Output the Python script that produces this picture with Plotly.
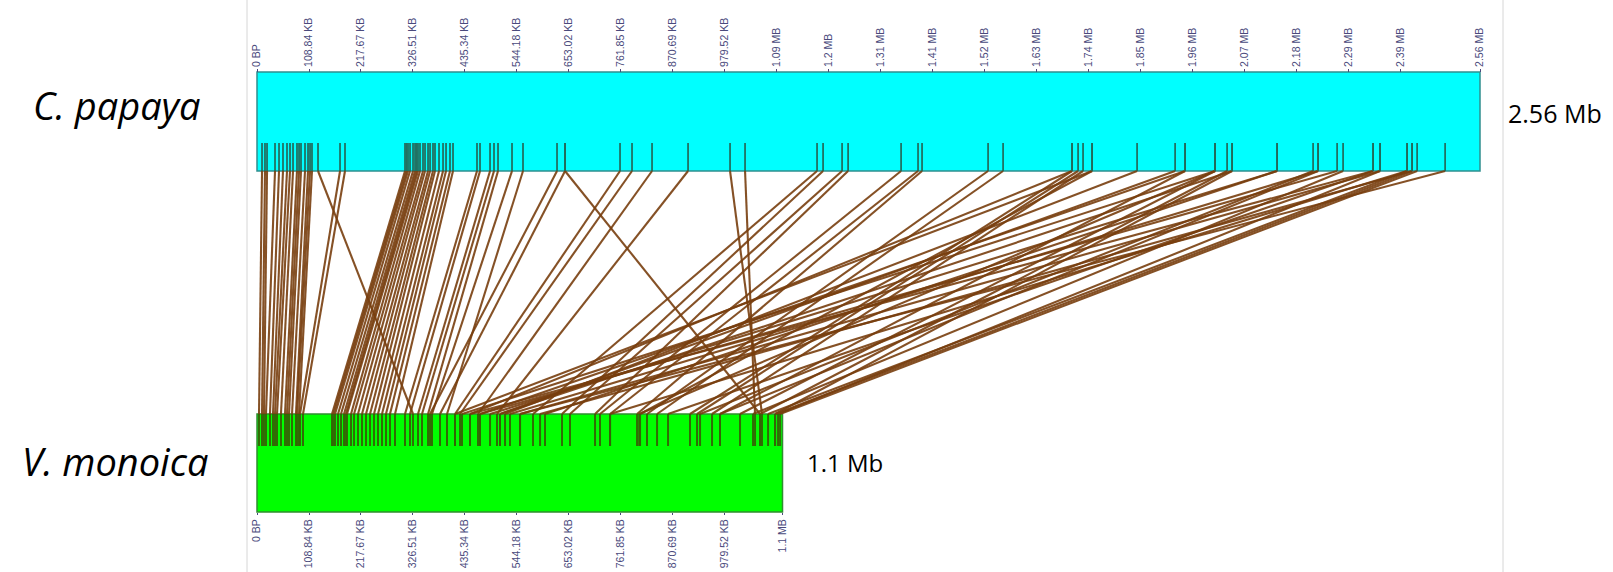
import plotly.graph_objects as go

# ---------------- data (positions in KB) ----------------
genomes = ["C. papaya", "V. monoica"]
genome_sizes_kb = [2560, 1100]
genome_size_labels = ["2.56 Mb", "1.1 Mb"]

top_tick_vals = [0, 108.84, 217.67, 326.51, 435.34, 544.18, 653.02, 761.85, 870.69, 979.52,
                 1088.4, 1197.2, 1306.1, 1414.9, 1523.8, 1632.6, 1741.5, 1850.3, 1959.2,
                 2068.0, 2176.8, 2285.7, 2394.5, 2560]
top_tick_text = ["0 BP", "108.84 KB", "217.67 KB", "326.51 KB", "435.34 KB", "544.18 KB",
                 "653.02 KB", "761.85 KB", "870.69 KB", "979.52 KB", "1.09 MB", "1.2 MB",
                 "1.31 MB", "1.41 MB", "1.52 MB", "1.63 MB", "1.74 MB", "1.85 MB", "1.96 MB",
                 "2.07 MB", "2.18 MB", "2.29 MB", "2.39 MB", "2.56 MB"]
bot_tick_vals = [0, 108.84, 217.67, 326.51, 435.34, 544.18, 653.02, 761.85, 870.69, 979.52, 1100]
bot_tick_text = ["0 BP", "108.84 KB", "217.67 KB", "326.51 KB", "435.34 KB", "544.18 KB",
                 "653.02 KB", "761.85 KB", "870.69 KB", "979.52 KB", "1.1 MB"]

# syntenic links: position on C. papaya (top) and on V. monoica (bottom), KB
papaya_kb = [10.5, 16.7, 21.0, 37.7, 46.1, 54.4, 62.8, 69.1, 75.4, 83.7, 88.0, 92.1, 100.5, 106.8,
             111.0, 115.1, 173.8, 184.2,
             127.7,
             309.8, 313.0, 316.1, 320.3, 326.6, 330.8, 334.0, 337.0, 341.2, 347.5, 351.7, 358.0,
             362.2, 368.4, 372.6, 381.0, 389.4, 395.7, 404.0, 410.3,
             460.5, 466.8, 487.8, 496.1, 504.5, 533.8, 556.8,
             628.0, 644.8, 644.8,
             759.9, 785.0, 826.9,
             902.3,
             990.2, 1021.6,
             1172.3, 1184.9, 1224.7, 1237.3,
             1348.2, 1383.7, 1392.1,
             1530.3, 1561.7,
             1706.1, 1718.7, 1729.1, 1748.0, 1706.1, 1748.0,
             1842.2,
             1921.8, 1942.7, 1942.7, 2005.5, 2030.6, 2041.1, 2005.5, 2041.1, 2005.5,
             2135.3, 2135.3, 2210.6, 2221.1, 2260.9, 2273.4, 2221.1,
             2336.2, 2350.9, 2407.4, 2417.9, 2428.4, 2487.0, 2350.9, 2417.9, 2407.4, 2336.2]
monoica_kb = [4.2, 10.5, 14.6, 18.8, 27.2, 33.5, 37.7, 41.9, 50.2, 58.6, 62.8, 67.0, 73.3, 81.6,
              84.0, 87.9, 90.0, 96.3,
              326.6,
              157.0, 160.0, 163.3, 169.6, 175.8, 182.1, 186.0, 188.4, 196.8, 203.1, 211.4, 219.8,
              228.2, 236.6, 244.9, 253.3, 261.7, 270.0, 278.4, 288.9,
              309.8, 320.3, 337.0, 345.4, 358.0, 366.3, 397.7,
              362.2, 383.1, 1053.0,
              414.5, 425.0, 462.6,
              502.4,
              1057.1, 1042.5,
              577.8, 638.5, 655.2, 707.6,
              718.0, 739.0, 795.5,
              816.4, 837.4,
              906.4, 921.1, 952.5, 801.8, 445.9, 414.5,
              519.2,
              508.7, 466.8, 969.2, 1011.1, 1053.0, 1084.4, 429.1, 508.7, 800.0,
              487.8, 602.9, 927.4, 969.2, 466.8, 1038.3, 529.6,
              445.9, 1090.7, 1069.8, 1084.4, 1094.9, 550.6, 550.6, 592.5, 739.0, 860.4]

# ---------------- layout geometry (pixels) ----------------
W, H = 1613, 572
X0_PX = 257.0
PX_PER_KB = 1223.0 / 2560.0
x_range = [-X0_PX / PX_PER_KB, (W - X0_PX) / PX_PER_KB]

TOP_Y0, TOP_Y1 = 72, 171          # C. papaya bar
TOP_MARK_Y0 = 143
BOT_Y0, BOT_Y1 = 414, 512         # V. monoica bar
BOT_MARK_Y1 = 446

LINK_COLOR = "rgba(120,62,14,0.9)"
TOP_MARK_COLOR = "rgba(35,105,90,0.95)"
BOT_MARK_COLOR = "rgba(52,100,5,0.95)"
TICK_COLOR = "#4a4a7c"

fig = go.Figure()

# links
lx, ly = [], []
for t, b in zip(papaya_kb, monoica_kb):
    lx += [t, b, None]
    ly += [TOP_Y1, BOT_Y0, None]
fig.add_trace(go.Scatter(x=lx, y=ly, mode="lines", line=dict(color=LINK_COLOR, width=2.1),
                         hoverinfo="skip", showlegend=False))

# marks on C. papaya
tx, ty = [], []
for t in papaya_kb:
    tx += [t, t, None]
    ty += [TOP_MARK_Y0, TOP_Y1, None]
fig.add_trace(go.Scatter(x=tx, y=ty, mode="lines", line=dict(color=TOP_MARK_COLOR, width=1.8),
                         hoverinfo="skip", showlegend=False))

# marks on V. monoica
bx, by = [], []
for b in monoica_kb:
    bx += [b, b, None]
    by += [BOT_Y0, BOT_MARK_Y1, None]
fig.add_trace(go.Scatter(x=bx, y=by, mode="lines", line=dict(color=BOT_MARK_COLOR, width=2.0),
                         hoverinfo="skip", showlegend=False, xaxis="x2"))

shapes = [
    dict(type="rect", xref="x", yref="y", x0=0, x1=genome_sizes_kb[0], y0=TOP_Y0, y1=TOP_Y1,
         fillcolor="#00ffff", line=dict(color="#2f8f8f", width=1.5), layer="below"),
    dict(type="rect", xref="x", yref="y", x0=0, x1=genome_sizes_kb[1], y0=BOT_Y0, y1=BOT_Y1,
         fillcolor="#00ff00", line=dict(color="#2f8f2f", width=1.5), layer="below"),
    dict(type="line", xref="paper", yref="paper", x0=247 / W, x1=247 / W, y0=0, y1=1,
         line=dict(color="#d6d6d6", width=1)),
    dict(type="line", xref="paper", yref="paper", x0=1503 / W, x1=1503 / W, y0=0, y1=1,
         line=dict(color="#d6d6d6", width=1)),
]

annotations = [
    dict(text="<i>" + genomes[0] + "</i>", x=117 / W, y=1 - 105 / H, xref="paper", yref="paper",
         showarrow=False, font=dict(family="Open Sans", size=38, color="black"),
         xanchor="center", yanchor="middle"),
    dict(text="<i>" + genomes[1] + "</i>", x=115 / W, y=1 - 461 / H, xref="paper", yref="paper",
         showarrow=False, font=dict(family="Open Sans", size=38, color="black"),
         xanchor="center", yanchor="middle"),
    dict(text=genome_size_labels[0], x=1506 / W, y=1 - 113 / H, xref="paper", yref="paper",
         showarrow=False, font=dict(family="Open Sans", size=25, color="black"),
         xanchor="left", yanchor="middle"),
    dict(text=genome_size_labels[1], x=805 / W, y=1 - 462 / H, xref="paper", yref="paper",
         showarrow=False, font=dict(family="Open Sans", size=24, color="black"),
         xanchor="left", yanchor="middle"),
]

tick_font = dict(family="Liberation Sans", size=10.5, color=TICK_COLOR)
fig.update_layout(
    width=W, height=H,
    margin=dict(l=0, r=0, t=0, b=0, pad=0, autoexpand=False),
    paper_bgcolor="white", plot_bgcolor="white",
    showlegend=False,
    shapes=shapes, annotations=annotations,
    xaxis=dict(range=x_range, side="top", anchor="free", position=1 - TOP_Y0 / H,
               automargin=False,
               tickmode="array", tickvals=top_tick_vals, ticktext=top_tick_text,
               tickangle=-90, ticks="outside", ticklen=3, tickcolor=TICK_COLOR,
               tickfont=tick_font,
               showgrid=False, zeroline=False, showline=False, fixedrange=True),
    xaxis2=dict(range=x_range, side="bottom", anchor="free", position=1 - BOT_Y1 / H,
                overlaying="x", automargin=False,
                tickmode="array", tickvals=bot_tick_vals, ticktext=bot_tick_text,
                tickangle=-90, ticks="outside", ticklen=2, tickcolor=TICK_COLOR,
                tickfont=tick_font,
                showgrid=False, zeroline=False, showline=False, fixedrange=True),
    yaxis=dict(range=[H, 0], visible=False, showgrid=False, zeroline=False, fixedrange=True,
               automargin=False),
)

fig.write_html("out.html")
